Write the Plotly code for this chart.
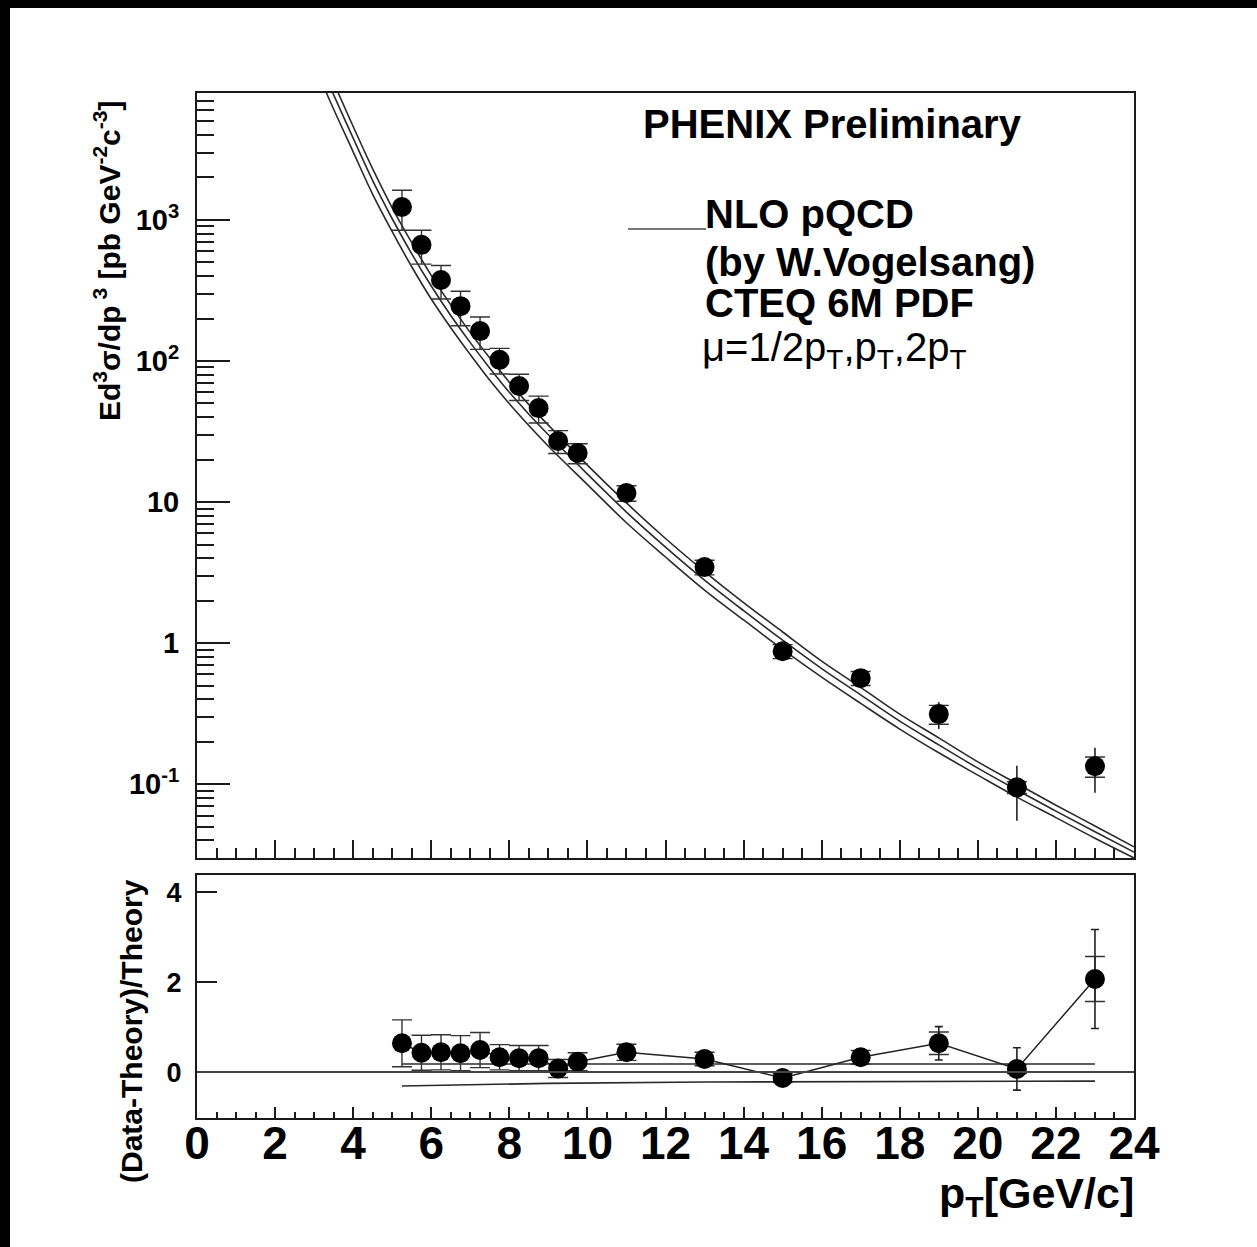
import plotly.graph_objects as go

# ---------------- data ----------------
pt = [5.25, 5.75, 6.25, 6.75, 7.25, 7.75, 8.25, 8.75, 9.25, 9.75, 11, 13, 15, 17, 19, 21, 23]
xsec = [1236, 666, 375, 245, 163, 102, 66.5, 46.4, 27.1, 22.3, 11.6, 3.46, 0.877, 0.565, 0.314, 0.095, 0.134]
xsec_stat = [40, 25, 15, 10, 7, 5, 4, 3, 2, 1.5, 1.0, 0.33, 0.08, 0.064, 0.068, 0.04, 0.047]
xsec_sys = [390, 180, 100, 67, 42, 21, 14, 10, 5, 3.6, 1.45, 0.41, 0.1, 0.064, 0.048, 0.009, 0.022]

ratio = [0.64, 0.43, 0.44, 0.42, 0.49, 0.33, 0.31, 0.31, 0.08, 0.23, 0.44, 0.29, -0.13, 0.33, 0.64, 0.07, 2.07]
ratio_stat = [0.05, 0.05, 0.05, 0.05, 0.05, 0.05, 0.05, 0.06, 0.06, 0.08, 0.12, 0.12, 0.08, 0.15, 0.37, 0.47, 1.1]
ratio_sys = [0.52, 0.39, 0.39, 0.39, 0.39, 0.28, 0.28, 0.28, 0.2, 0.2, 0.18, 0.15, 0.1, 0.15, 0.25, 0.1, 0.5]

theory_pt = [3.2, 3.4, 4.0, 4.5, 5.0, 5.5, 6.0, 6.5, 7.0, 7.5, 8.0, 8.5, 9.0, 10, 11, 12, 13, 14,
             15, 16, 17, 18, 19, 20, 21, 22, 23, 24]
theory_central = [12000, 8900, 3800, 1900, 1020, 575, 340, 210, 135, 89, 60, 42, 30, 15.8, 8.5, 4.8,
                  2.8, 1.7, 1.05, 0.66, 0.43, 0.28, 0.19, 0.13, 0.091, 0.0645, 0.046, 0.033]
theory_hi = [14600, 10900, 4600, 2300, 1220, 690, 405, 250, 159, 105, 70.8, 49.1, 35.1, 18.3, 9.86,
             5.52, 3.22, 1.94, 1.20, 0.746, 0.486, 0.314, 0.213, 0.144, 0.101, 0.071, 0.0506, 0.036]
theory_lo = [9480, 7030, 3040, 1520, 826, 466, 275, 172, 111, 73, 49.8, 34.9, 24.9, 13.3, 7.14,
             4.08, 2.38, 1.46, 0.903, 0.574, 0.374, 0.246, 0.167, 0.116, 0.081, 0.058, 0.0414, 0.030]

band_pt = [5.25, 9, 13, 17, 23]
band_hi = [0.18, 0.18, 0.18, 0.18, 0.18]
band_lo = [-0.31, -0.25, -0.22, -0.21, -0.20]

x_ticks = list(range(0, 25, 2))
y_log_ticks = [0.1, 1, 10, 100, 1000]
y_log_text = ["10<sup>-1</sup>", "1", "10", "10<sup>2</sup>", "10<sup>3</sup>"]
y_ratio_ticks = [0, 2, 4]

# ---------------- layout helpers ----------------
W, H = 1257, 1247
FONT = "Liberation Sans, Arial, Helvetica, sans-serif"
INK = "#1a1a1a"


def fx(p):
    return p / W


def fy(p):
    return 1 - p / H


x_dom = [fx(197), fx(1134)]
y1_dom = [fy(858), fy(93)]
y2_dom = [fy(1118), fy(875)]

fig = go.Figure()

# theory curves (upper)
for arr in [theory_hi, theory_central, theory_lo]:
    fig.add_trace(go.Scatter(x=theory_pt, y=arr, mode="lines",
                             line=dict(color="#2a2a2a", width=1.6, shape="spline"),
                             xaxis="x", yaxis="y", hoverinfo="skip", showlegend=False))

# systematic brackets (upper)
fig.add_trace(go.Scatter(x=pt, y=xsec, mode="markers",
                         marker=dict(size=1, color="rgba(0,0,0,0)"),
                         error_y=dict(type="data", array=xsec_sys, width=10, thickness=1.4, color="#333"),
                         xaxis="x", yaxis="y", showlegend=False))
# data points (upper)
fig.add_trace(go.Scatter(x=pt, y=xsec, mode="markers",
                         marker=dict(size=20, color="black"),
                         error_y=dict(type="data", array=xsec_stat, width=0, thickness=1.6, color="#222"),
                         xaxis="x", yaxis="y", showlegend=False))

# band lines (lower)
for arr in [band_hi, band_lo]:
    fig.add_trace(go.Scatter(x=band_pt, y=arr, mode="lines",
                             line=dict(color="#2a2a2a", width=1.6),
                             xaxis="x2", yaxis="y2", hoverinfo="skip", showlegend=False))

# systematic brackets (lower)
fig.add_trace(go.Scatter(x=pt, y=ratio, mode="markers",
                         marker=dict(size=1, color="rgba(0,0,0,0)"),
                         error_y=dict(type="data", array=ratio_sys, width=10, thickness=1.4, color="#333"),
                         xaxis="x2", yaxis="y2", showlegend=False))
# data points (lower)
fig.add_trace(go.Scatter(x=pt, y=ratio, mode="lines+markers",
                         line=dict(color="#222", width=1.5),
                         marker=dict(size=20, color="black"),
                         error_y=dict(type="data", array=ratio_stat, width=4, thickness=1.6, color="#222"),
                         xaxis="x2", yaxis="y2", showlegend=False))

minor_log = [m * 10 ** e for e in range(-2, 4) for m in range(2, 10)]

axis_common = dict(showline=True, linecolor=INK, linewidth=2, mirror=True, automargin=False,
                   showgrid=False, zeroline=False, ticks="inside", tickcolor=INK, tickwidth=1.5)

fig.update_layout(
    template="none",
    width=W, height=H,
    autosize=False,
    margin=dict(l=0, r=0, t=0, b=0, pad=0),
    paper_bgcolor="white", plot_bgcolor="white",
    showlegend=False,
    xaxis=dict(domain=x_dom, anchor="y", range=[0, 24], tickvals=x_ticks, showticklabels=False,
               ticklen=18,
               minor=dict(ticks="inside", ticklen=10, tickwidth=1.5, tickcolor=INK, dtick=0.5, showgrid=False),
               **axis_common),
    yaxis=dict(domain=y1_dom, anchor="x", type="log", range=[-1.523, 3.90],
               tickvals=y_log_ticks, ticktext=["<b>%s</b>" % t for t in y_log_text],
               tickfont=dict(family=FONT, size=29, color="black"), ticklen=33, ticklabelstandoff=10,
               minor=dict(ticks="inside", ticklen=17, tickwidth=1.5, tickcolor=INK,
                          tickvals=minor_log, showgrid=False),
               **axis_common),
    xaxis2=dict(domain=x_dom, anchor="y2", range=[0, 24], tickvals=x_ticks,
                ticktext=["<b>%d</b>" % v for v in x_ticks],
                tickfont=dict(family=FONT, size=46, color="black"), ticklen=11, ticklabelstandoff=-16,
                minor=dict(ticks="inside", ticklen=6, tickwidth=1.5, tickcolor=INK, dtick=0.5, showgrid=False),
                **axis_common),
    yaxis2=dict(domain=y2_dom, anchor="x2", range=[-1.02, 4.38], tickvals=y_ratio_ticks,
                ticktext=["<b>%d</b>" % v for v in y_ratio_ticks],
                tickfont=dict(family=FONT, size=27, color="black"), ticklen=20, ticklabelstandoff=8,
                **axis_common),
)

shapes = [
    # black border strips of the original canvas
    dict(type="rect", xref="paper", yref="paper", x0=0, x1=fx(10), y0=0, y1=1,
         fillcolor="black", line=dict(width=0), layer="above"),
    dict(type="rect", xref="paper", yref="paper", x0=0, x1=1, y0=fy(8), y1=1,
         fillcolor="black", line=dict(width=0), layer="above"),
    # zero line in ratio panel
    dict(type="line", xref="x2 domain", yref="y2", x0=0, x1=1, y0=0, y1=0,
         line=dict(color="#444", width=2)),
    # legend sample line
    dict(type="line", xref="paper", yref="paper", x0=fx(628), x1=fx(706), y0=fy(229), y1=fy(229),
         line=dict(color="#777", width=2)),
]
fig.update_layout(shapes=shapes)

ann = []


def text(x, y, s, size, xanchor="left", yanchor="middle", angle=0):
    ann.append(dict(xref="paper", yref="paper", x=fx(x), y=fy(y), text=s, showarrow=False,
                    xanchor=xanchor, yanchor=yanchor, textangle=angle,
                    font=dict(family=FONT, size=size, color="black")))


text(641, 124, "<b>PHENIX Preliminary</b>", 40)
text(703, 214, "<b>NLO pQCD</b>", 40)
text(703, 262, "<b>(by W.Vogelsang)</b>", 40)
text(703, 303, "<b>CTEQ 6M PDF</b>", 40)
text(700, 350, "\u03bc=1/2p<sub>T</sub>,p<sub>T</sub>,2p<sub>T</sub>", 40)
text(107, 261, "<b>Ed<sup>3</sup>\u03c3/dp<sup> 3</sup> [pb GeV<sup>-2</sup>c<sup>-3</sup>]</b>", 30,
     xanchor="center", angle=-90)
text(131, 1031, "<b>(Data-Theory)/Theory</b>", 30, xanchor="center", angle=-90)
text(1136, 1196, "<b>p<sub>T</sub>[GeV/c]</b>", 43, xanchor="right")

fig.update_layout(annotations=ann)

fig.write_html("out.html")
